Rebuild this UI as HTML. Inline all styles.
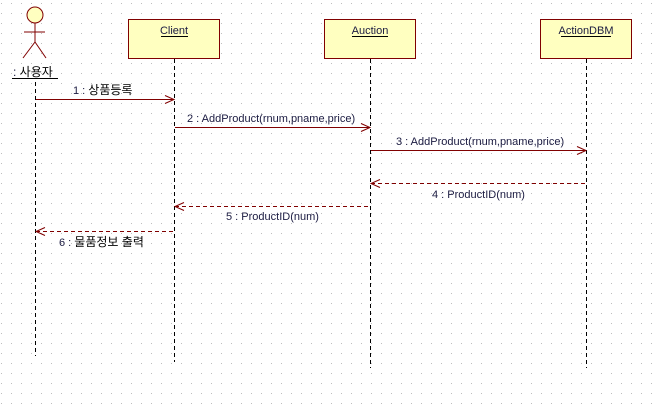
<!DOCTYPE html>
<html><head><meta charset="utf-8"><style>
html,body{margin:0;padding:0;background:#fff;}
svg{display:block;}
text{font-family:"Liberation Sans","Noto Sans CJK KR",sans-serif;font-size:11px;fill:#1a1a40;}
.k{font-size:12px;fill:#000;}
</style></head><body>
<svg width="657" height="405" xmlns="http://www.w3.org/2000/svg">
<defs><pattern id="g" x="1" y="3" width="10" height="10" patternUnits="userSpaceOnUse"><rect x="0" y="0" width="1" height="1" fill="#bdbdbd"/></pattern></defs>
<rect width="657" height="405" fill="#fff"/>
<rect width="657" height="405" fill="url(#g)"/>
<g stroke="#800000" fill="none" stroke-width="1">
<circle cx="35" cy="15" r="8" fill="#ffffc0"/>
<line x1="35" y1="23" x2="35" y2="42"/>
<line x1="24" y1="32" x2="45" y2="32"/>
<line x1="35" y1="42" x2="23" y2="58"/>
<line x1="35" y1="42" x2="46" y2="58"/>
</g>
<text x="13" y="76" style="font-size:12px">: <tspan class="k">사용자</tspan></text>
<line x1="12" y1="78.5" x2="58" y2="78.5" stroke="#000"/>
<g fill="#ffffc0" stroke="#800000">
<rect x="128.5" y="19.5" width="91" height="39"/>
<rect x="324.5" y="19.5" width="91" height="39"/>
<rect x="540.5" y="19.5" width="91" height="39"/>
</g>
<text x="174" y="34" text-anchor="middle">Client</text>
<line x1="161" y1="36.5" x2="188" y2="36.5" stroke="#000"/>
<text x="370" y="34" text-anchor="middle">Auction</text>
<line x1="352" y1="36.5" x2="388" y2="36.5" stroke="#000"/>
<text x="586" y="34" text-anchor="middle">ActionDBM</text>
<line x1="561" y1="36.5" x2="611" y2="36.5" stroke="#000"/>
<g stroke="#000" stroke-dasharray="4,3">
<line x1="35.5" y1="82" x2="35.5" y2="356"/>
<line x1="174.5" y1="59" x2="174.5" y2="362"/>
<line x1="370.5" y1="59" x2="370.5" y2="368"/>
<line x1="586.5" y1="59" x2="586.5" y2="368"/>
</g>
<g stroke="#800000" fill="none">
<line x1="36" y1="99.5" x2="174" y2="99.5"/><polyline points="165,95.5 174,99.5 165,103.5"/>
<line x1="175" y1="127.5" x2="370" y2="127.5"/><polyline points="361,123.5 370,127.5 361,131.5"/>
<line x1="371" y1="150.5" x2="586" y2="150.5"/><polyline points="577,146.5 586,150.5 577,154.5"/>
<line x1="371" y1="183.5" x2="586" y2="183.5" stroke-dasharray="4,3"/><polyline points="380,179.5 371,183.5 380,187.5"/>
<line x1="175" y1="206.5" x2="370" y2="206.5" stroke-dasharray="4,3"/><polyline points="184,202.5 175,206.5 184,210.5"/>
<line x1="36" y1="231.5" x2="174" y2="231.5" stroke-dasharray="4,3"/><polyline points="45,227.5 36,231.5 45,235.5"/>
</g>
<text x="73" y="94">1 : <tspan class="k">상품등록</tspan></text>
<text x="187" y="122">2 : AddProduct(rnum,pname,price)</text>
<text x="396" y="145">3 : AddProduct(rnum,pname,price)</text>
<text x="432" y="198">4 : ProductID(num)</text>
<text x="226" y="220">5 : ProductID(num)</text>
<text x="59" y="246">6 : <tspan class="k">물품정보 출력</tspan></text>
</svg>
</body></html>
